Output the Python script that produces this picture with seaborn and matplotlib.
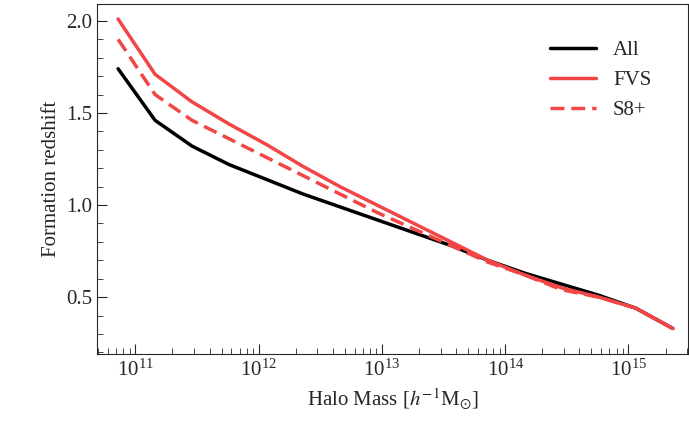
import numpy as np
import pandas as pd
import matplotlib
matplotlib.use("Agg")
import matplotlib.pyplot as plt
import seaborn as sns

log_mass = [10.86, 11.16, 11.46, 11.76, 12.06, 12.36, 12.66, 12.96,
            13.26, 13.56, 13.86, 14.16, 14.46, 14.76, 15.06, 15.36]
z_all = [1.74, 1.46, 1.32, 1.22, 1.14, 1.06, 0.99, 0.92,
         0.85, 0.78, 0.70, 0.63, 0.57, 0.51, 0.44, 0.33]
z_fvs = [2.01, 1.71, 1.56, 1.44, 1.33, 1.21, 1.10, 1.00,
         0.90, 0.80, 0.70, 0.62, 0.55, 0.50, 0.44, 0.33]
z_s8 = [1.90, 1.60, 1.46, 1.36, 1.26, 1.16, 1.06, 0.96,
        0.87, 0.78, 0.69, 0.62, 0.54, 0.50, 0.44, 0.33]

mass = 10 ** np.array(log_mass)
df = pd.concat([
    pd.DataFrame({"mass": mass, "z": z_all, "model": "All"}),
    pd.DataFrame({"mass": mass, "z": z_fvs, "model": "FVS"}),
    pd.DataFrame({"mass": mass, "z": z_s8, "model": "S8+"}),
])

sns.set_style("ticks")
plt.rcParams["font.family"] = ["Liberation Serif", "DejaVu Serif"]
plt.rcParams["mathtext.fontset"] = "stix"

fig, ax = plt.subplots(figsize=(6.89, 4.32), dpi=100)
palette = {"All": "black", "FVS": "#f24545", "S8+": "#f24545"}
dashes = {"All": "", "FVS": "", "S8+": (4, 2)}
sns.lineplot(data=df, x="mass", y="z", hue="model", style="model",
             palette=palette, dashes=dashes, linewidth=2.5, ax=ax)
ax.set_xscale("log")
ax.set_xlim(10 ** 10.69, 10 ** 15.48)
ax.set_ylim(0.19, 2.09)
ax.set_yticks([0.5, 1.0, 1.5, 2.0])
ax.yaxis.set_minor_locator(matplotlib.ticker.MultipleLocator(0.1))
ax.tick_params(which="both", direction="in", labelsize=15)
ax.tick_params(which="major", length=7)
ax.tick_params(which="minor", length=4)
ax.set_xlabel(r"Halo Mass [$h^{-1}$M$_{\odot}$]", fontsize=15)
ax.set_ylabel("Formation redshift", fontsize=15)
for s in ax.spines.values():
    s.set_visible(True)
ax.legend(title=None, frameon=False, fontsize=15, loc="upper right",
          bbox_to_anchor=(0.97, 0.95), handlelength=2.2)
fig.subplots_adjust(left=0.141, right=0.998, top=0.99, bottom=0.18)
fig.savefig("out.png")
